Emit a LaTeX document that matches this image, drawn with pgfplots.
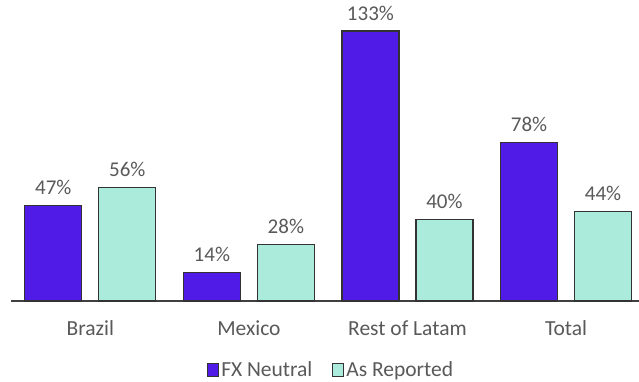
\documentclass[border=0pt]{standalone}
\usepackage{pgfplots}
\pgfplotsset{compat=1.18}
\usepackage{fontspec}
\setmainfont{Carlito}
\definecolor{fxn}{HTML}{501BE6}
\definecolor{asr}{HTML}{ABEBDC}
\definecolor{txt}{HTML}{595959}
\begin{document}
\begin{tikzpicture}
\begin{axis}[
  at={(11pt,80pt)}, anchor=south west, scale only axis,
  width=628pt, height=300pt,
  xmin=-0.5, xmax=3.46, ymin=0, ymax=147.8,
  ybar=17pt, bar width=57pt,
  axis x line*=bottom, hide y axis,
  axis line style={draw=black!75, line width=1.2pt},
  xtick={0,1,2,3}, xticklabels={Brazil,Mexico,Rest of Latam,Total},
  major tick length=0pt,
  /pgf/number format/assume math mode=true,
  xticklabel style={font=\fontsize{21.5}{25}\selectfont, text=txt, anchor=base, yshift=-34pt, inner sep=0pt},
  ytick=\empty,
  nodes near coords={\pgfmathprintnumber{\pgfplotspointmeta}\%},
  every node near coord/.append style={font=\fontsize{21}{25}\selectfont, text=txt, anchor=base, inner sep=0pt, yshift=11pt},
  clip=false,
  legend columns=2,
  legend style={draw=none, fill=none, at={(0.51,-0.23)}, anchor=center,
    font=\fontsize{21.5}{25}\selectfont, text=txt,
    /tikz/every even column/.append style={column sep=18pt}},
  legend image code/.code={\draw[#1, line width=1pt] (0pt,-6.5pt) rectangle (11pt,6.5pt);},
]
\addplot[fill=fxn, draw=black!80, line width=1.2pt] coordinates {(0,47) (1,14) (2,133) (3,78)};
\addplot[fill=asr, draw=black!80, line width=1.2pt] coordinates {(0,56) (1,28) (2,40) (3,44)};
\legend{FX Neutral, As Reported}
\end{axis}
\pgfresetboundingbox
\path[use as bounding box] (0,0) rectangle (639pt,381pt);
\end{tikzpicture}
\end{document}
